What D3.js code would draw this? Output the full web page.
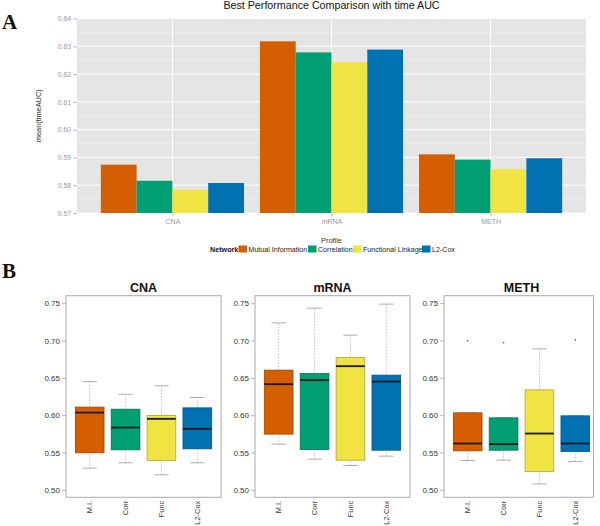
<!DOCTYPE html>
<html><head><meta charset="utf-8">
<script src="https://cdn.jsdelivr.net/npm/d3@7"></script>
<style>body{margin:0;background:#fff}svg{display:block;font-family:"Liberation Sans",Arial,sans-serif}</style>
</head><body><svg id="c" width="600" height="526"></svg>
<script>
// ---- Panel A data ----
const profiles = ["CNA", "mRNA", "METH"];
const networks = ["Mutual Information", "Correlation", "Functional Linkage", "L2-Cox"];
const netColors = ["#D55E00", "#009E73", "#F0E442", "#0072B2"];
const meanMI   = [0.5874, 0.6318, 0.5911];
const meanCorr = [0.5816, 0.6278, 0.5892];
const meanFunc = [0.5784, 0.6243, 0.5858];
const meanL2   = [0.5808, 0.6288, 0.5897];
const yTicksA = [0.57, 0.58, 0.59, 0.60, 0.61, 0.62, 0.63, 0.64];

// ---- Panel B data: [lowerWhisker, Q1, median, Q3, upperWhisker] ----
const boxLabels = ["M.I.", "Corr", "Func", "L2-Cox"];
const cnaStats = [[0.529,0.5496,0.6035,0.6108,0.645],[0.5362,0.5536,0.5834,0.608,0.628],[0.5201,0.5393,0.5951,0.5995,0.6393],[0.5362,0.5549,0.5817,0.6098,0.6237]];
const mrnaStats = [[0.5612,0.5746,0.6415,0.6603,0.7236],[0.5411,0.554,0.6469,0.6558,0.7433],[0.5326,0.5397,0.6656,0.6772,0.7072],[0.5451,0.5531,0.645,0.6536,0.7487]];
const methStats = [[0.5393,0.5522,0.562,0.6031,0.6031],[0.5397,0.5531,0.5612,0.5964,0.5964],[0.508,0.5245,0.5754,0.6339,0.6888],[0.5379,0.5513,0.562,0.5991,0.5991]];
const cnaOut = [[],[],[],[]];
const mrnaOut = [[],[],[],[]];
const methOut = [[0.6995],[0.6969],[],[0.7009]];
const yTicksB = [0.50, 0.55, 0.60, 0.65, 0.70, 0.75];

const svg = d3.select("#c");

// ================= Panel A =================
const A = {l:77, r:586, t:18.5, b:213};
// ggplot discrete x: unit = width/3.2, centers at 0.6,1.6,2.6 units
const unit = (A.r - A.l) / 3.2;
const xc = p => A.l + (0.6 + profiles.indexOf(p)) * unit;
const x1 = d3.scaleBand().domain(networks).range([-0.45*unit, 0.45*unit]);
const yA = d3.scaleLinear().domain([0.57, 0.64]).range([A.b, A.t]);

svg.append("rect").attr("x",A.l).attr("y",A.t).attr("width",A.r-A.l).attr("height",A.b-A.t).attr("fill","#E5E5E5");
const minor = d3.range(0.575, 0.64, 0.01);
svg.append("g").selectAll("line").data(minor).join("line")
  .attr("x1",A.l).attr("x2",A.r).attr("y1",d=>yA(d)).attr("y2",d=>yA(d))
  .attr("stroke","#F2F2F2").attr("stroke-width",0.6);
svg.append("g").selectAll("line").data(yTicksA).join("line")
  .attr("x1",A.l).attr("x2",A.r).attr("y1",d=>yA(d)).attr("y2",d=>yA(d))
  .attr("stroke","#fff").attr("stroke-width",1);
svg.append("g").selectAll("line").data(profiles).join("line")
  .attr("x1",d=>xc(d)).attr("x2",d=>xc(d)).attr("y1",A.t).attr("y2",A.b)
  .attr("stroke","#fff").attr("stroke-width",1);

const seriesA = [meanMI, meanCorr, meanFunc, meanL2];
const barG = svg.append("g");
seriesA.forEach((vals, si) => {
  barG.selectAll(null).data(vals.map((v,i)=>({p:profiles[i], v}))).join("rect")
    .attr("x", d => xc(d.p) + x1(networks[si]))
    .attr("width", x1.bandwidth())
    .attr("y", d => yA(d.v))
    .attr("height", d => A.b - yA(d.v))
    .attr("fill", netColors[si]);
});

const yAxisA = d3.axisLeft(yA).tickValues(yTicksA).tickFormat(d3.format(".2f")).tickSize(3.5).tickPadding(2.5);
const gyA = svg.append("g").attr("transform",`translate(${A.l},0)`).call(yAxisA);
gyA.select(".domain").remove();
gyA.selectAll("line").attr("stroke","#7f7f7f").attr("stroke-width",0.6);
gyA.selectAll("text").attr("fill","#999").style("font-size","6.8px").style("font-family","Liberation Sans, Arial, sans-serif");

const xAxisA = d3.axisBottom(d3.scalePoint().domain(profiles).range([xc("CNA"), xc("METH")])).tickSize(3).tickPadding(3);
const gxA = svg.append("g").attr("transform",`translate(0,${A.b})`).call(xAxisA);
gxA.select(".domain").remove();
gxA.selectAll("line").attr("stroke","#7f7f7f").attr("stroke-width",0.6);
gxA.selectAll("text").attr("fill","#999").style("font-size","7px").style("font-family","Liberation Sans, Arial, sans-serif");

svg.append("text").attr("x",(A.l+A.r)/2).attr("y",9).attr("text-anchor","middle")
  .style("font-size","10.7px").attr("fill","#111").text("Best Performance Comparison with time AUC");
svg.append("text").attr("transform",`translate(40.5,${(A.t+A.b)/2}) rotate(-90)`).attr("text-anchor","middle")
  .style("font-size","7.4px").attr("fill","#333").text("mean(timeAUC)");
svg.append("text").attr("x",(A.l+A.r)/2).attr("y",242.5).attr("text-anchor","middle")
  .style("font-size","7.4px").attr("fill","#333").text("Profile");

const lg = svg.append("g");
lg.append("text").attr("x",210).attr("y",251.5).style("font-size","7.2px").style("font-weight","bold").attr("fill","#111").text("Network");
const legX = [238.5, 308, 353, 422];
networks.forEach((n,i)=>{
  lg.append("rect").attr("x",legX[i]).attr("y",245.5).attr("width",8.5).attr("height",7).attr("fill",netColors[i]);
  lg.append("text").attr("x",legX[i]+10).attr("y",251.5).style("font-size","7.1px").attr("fill","#222").text(n);
});

svg.append("text").attr("x",2).attr("y",29).style("font-family","Liberation Serif, Times New Roman, serif").style("font-weight","bold").style("font-size","21px").attr("fill","#111").text("A");
svg.append("text").attr("x",2).attr("y",278).style("font-family","Liberation Serif, Times New Roman, serif").style("font-weight","bold").style("font-size","21px").attr("fill","#111").text("B");

// ================= Panel B =================
const B = {t:295.7, b:497.3};
const yB = d3.scaleLinear().domain([0.49, 0.76]).range([B.b, B.t]);
const panels = [
  {name:"CNA", left:66, right:221, stats:cnaStats, out:cnaOut},
  {name:"mRNA", left:255, right:410, stats:mrnaStats, out:mrnaOut},
  {name:"METH", left:444, right:593.5, stats:methStats, out:methOut}
];
panels.forEach(P => {
  const g = svg.append("g");
  const xB = d3.scaleLinear().domain([0.34, 4.66]).range([P.left, P.left + 155]);
  const bw = (xB(1.4) - xB(0.6));
  const cap = bw * 0.5;
  P.stats.forEach((s, i) => {
    const cx = xB(i+1);
    const col = d3.color(netColors[i]);
    g.append("line").attr("x1",cx).attr("x2",cx).attr("y1",yB(s[0])).attr("y2",yB(s[1]))
      .attr("stroke","#aaa").attr("stroke-width",0.7).attr("stroke-dasharray","1.5,1.5");
    g.append("line").attr("x1",cx).attr("x2",cx).attr("y1",yB(s[3])).attr("y2",yB(s[4]))
      .attr("stroke","#aaa").attr("stroke-width",0.7).attr("stroke-dasharray","1.5,1.5");
    g.append("line").attr("x1",cx-cap/2).attr("x2",cx+cap/2).attr("y1",yB(s[0])).attr("y2",yB(s[0]))
      .attr("stroke","#888").attr("stroke-width",0.7);
    g.append("line").attr("x1",cx-cap/2).attr("x2",cx+cap/2).attr("y1",yB(s[4])).attr("y2",yB(s[4]))
      .attr("stroke","#888").attr("stroke-width",0.7);
    g.append("rect").attr("x",cx-bw/2).attr("width",bw).attr("y",yB(s[3])).attr("height",yB(s[1])-yB(s[3]))
      .attr("fill",netColors[i]).attr("stroke",col.darker(0.9)).attr("stroke-width",0.8);
    g.append("line").attr("x1",cx-bw/2).attr("x2",cx+bw/2).attr("y1",yB(s[2])).attr("y2",yB(s[2]))
      .attr("stroke","#1a1a1a").attr("stroke-width",1.8);
    P.out[i].forEach(o => {
      g.append("circle").attr("cx",cx).attr("cy",yB(o)).attr("r",0.8).attr("fill","#555");
    });
  });
  g.append("rect").attr("x",P.left).attr("y",B.t).attr("width",P.right-P.left).attr("height",B.b-B.t)
    .attr("fill","none").attr("stroke","#aaa").attr("stroke-width",1);
  const ya = d3.axisLeft(yB).tickValues(yTicksB).tickFormat(d3.format(".2f")).tickSize(4).tickPadding(2);
  const gy = svg.append("g").attr("transform",`translate(${P.left},0)`).call(ya);
  gy.select(".domain").remove();
  gy.selectAll("line").attr("stroke","#999").attr("stroke-width",0.7);
  gy.selectAll("text").attr("fill","#333").style("font-size","8px").style("font-family","Liberation Sans, Arial, sans-serif");
  boxLabels.forEach((lab,i)=>{
    svg.append("text").attr("transform",`translate(${xB(i+1)+2.8},${B.b+3.5}) rotate(-90)`)
      .attr("text-anchor","end").style("font-size","7.4px").attr("fill","#333").text(lab);
  });
  svg.append("text").attr("x",(P.left+P.left+155)/2).attr("y",292).attr("text-anchor","middle")
    .style("font-size","12.5px").style("font-weight","bold").attr("fill","#111").text(P.name);
});
</script></body></html>
